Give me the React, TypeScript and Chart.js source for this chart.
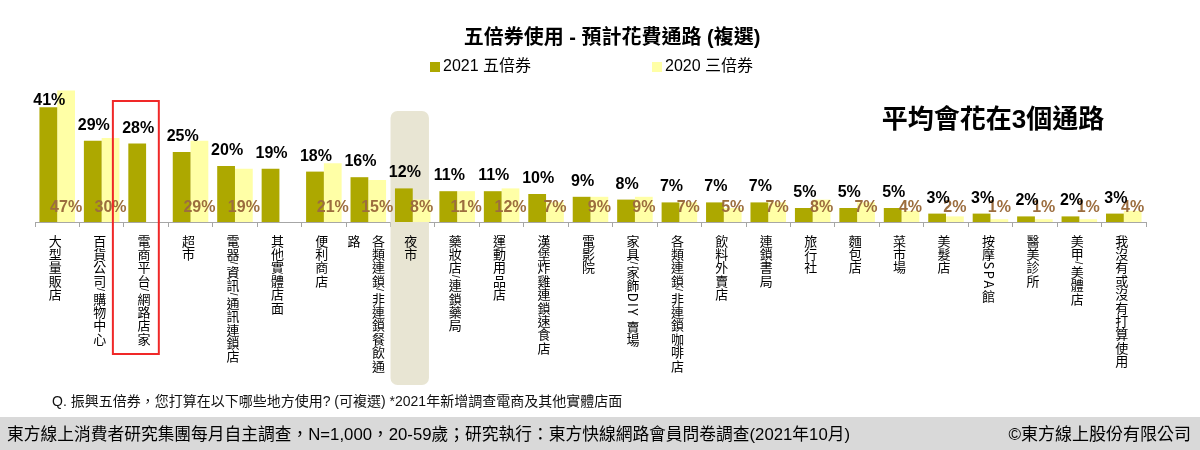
import { useEffect, useRef } from "react";
import { Chart, registerables } from "chart.js";

Chart.register(...registerables);

const categories = [
  "大型量販店",
  "百貨公司/購物中心",
  "電商平台/網路店家",
  "超市",
  "電器/資訊/通訊連鎖店",
  "其他實體店面",
  "便利商店",
  "各類連鎖/非連鎖餐飲通路",
  "夜市",
  "藥妝店/連鎖藥局",
  "運動用品店",
  "漢堡炸雞連鎖速食店",
  "電影院",
  "家具/家飾DIY 賣場",
  "各類連鎖/非連鎖咖啡店",
  "飲料外賣店",
  "連鎖書局",
  "旅行社",
  "麵包店",
  "菜市場",
  "美髮店",
  "按摩SPA館",
  "醫美診所",
  "美甲/美體店",
  "我沒有或沒有打算使用",
];
const values2021 = [41, 29, 28, 25, 20, 19, 18, 16, 12, 11, 11, 10, 9, 8, 7, 7, 7, 5, 5, 5, 3, 3, 2, 2, 3];
const values2020 = [47, 30, null, 29, 19, null, 21, 15, 8, 11, 12, 7, 9, 9, 7, 5, 7, 8, 7, 4, 2, 1, 1, 1, 4];
const seriesNames = ["2021 五倍券", "2020 三倍券"];
const chartTitle = "五倍券使用 - 預計花費通路 (複選)";
const calloutText = "平均會花在3個通路";
const questionNote = "Q. 振興五倍券，您打算在以下哪些地方使用? (可複選) *2021年新增調查電商及其他實體店面";
const sourceNote = "東方線上消費者研究集團每月自主調查，N=1,000，20-59歲；研究執行：東方快線網路會員問卷調查(2021年10月)";
const copyrightNote = "©東方線上股份有限公司";
const highlightIndex = 8;
const boxedIndex = 2;

const COLOR_2021 = "#ADA800";
const COLOR_2020 = "#FFFFA6";
const LABEL_2020 = "#9C6D3E";
const LATIN = '"Liberation Sans", Arial, "Noto Sans CJK TC", sans-serif';
const CJK = '"Noto Sans CJK TC", sans-serif';

function isUpright(ch: string) {
  return ch.charCodeAt(0) > 0x2e7f;
}

function drawVerticalLabel(ctx: CanvasRenderingContext2D, text: string, cx: number, top: number, maxH: number) {
  const step = 13.4;
  ctx.font = "13px " + CJK;
  const items = [...text].map((ch) => {
    const up = isUpright(ch);
    const slash = ch === "/";
    ctx.font = slash ? "10px " + LATIN : "13px " + CJK;
    return { ch, up, slash, adv: up ? step : ctx.measureText(ch).width + 1.5 };
  });
  const cols: typeof items[] = [[]];
  let h = 0;
  for (const it of items) {
    if (h + it.adv > maxH && cols[cols.length - 1].length) {
      cols.push([]);
      h = 0;
    }
    cols[cols.length - 1].push(it);
    h += it.adv;
  }
  const colGap = 24.5;
  const n = cols.length;
  cols.forEach((col, ci) => {
    const x = cx + ((n - 1) / 2 - ci) * colGap;
    let y = top;
    for (const it of col) {
      ctx.save();
      ctx.font = it.slash ? "10px " + LATIN : "13px " + CJK;
      ctx.textAlign = "center";
      ctx.textBaseline = "middle";
      if (it.up) {
        ctx.fillText(it.ch, x, y + it.adv / 2);
      } else {
        ctx.translate(x, y + it.adv / 2);
        ctx.rotate(Math.PI / 2);
        ctx.fillText(it.ch, 0, 0);
      }
      ctx.restore();
      y += it.adv;
    }
  });
}

const decorPlugin = {
  id: "decor",
  beforeDatasetsDraw(chart: any) {
    const { ctx, chartArea, scales } = chart;
    const xs = scales.x;
    const span = xs.getPixelForValue(1) - xs.getPixelForValue(0);
    const left = xs.getPixelForValue(highlightIndex) - span / 2;
    const right = left + span - 6;
    const top = chartArea.top + 29;
    const bottom = chartArea.bottom + 163;
    ctx.save();
    ctx.fillStyle = "#E8E5D3";
    ctx.beginPath();
    (ctx as any).roundRect(left, top, right - left, bottom - top, 7);
    ctx.fill();
    ctx.restore();
  },
  afterDatasetsDraw(chart: any) {
    const { ctx, chartArea } = chart;
    const m21 = chart.getDatasetMeta(0);
    const m20 = chart.getDatasetMeta(1);
    ctx.save();
    ctx.font = "bold 16px " + LATIN;
    ctx.textAlign = "center";
    ctx.textBaseline = "alphabetic";
    values2020.forEach((v, i) => {
      if (v === null) return;
      const bar = m20.data[i];
      ctx.fillStyle = LABEL_2020;
      ctx.fillText(v + "%", bar.x, chartArea.bottom - 10);
    });
    values2021.forEach((v, i) => {
      const bar = m21.data[i];
      ctx.fillStyle = "#000000";
      const y = Math.max(bar.y - 11, chartArea.top + 23);
      ctx.fillText(v + "%", bar.x + 1, y);
    });
    ctx.restore();
  },
  afterDraw(chart: any) {
    const { ctx, chartArea, scales, width } = chart;
    const xs = scales.x;
    const span = xs.getPixelForValue(1) - xs.getPixelForValue(0);
    ctx.save();
    // category labels
    ctx.fillStyle = "#000000";
    categories.forEach((c, i) => {
      drawVerticalLabel(ctx, c, xs.getPixelForValue(i) - 2, chartArea.bottom + 12, 146);
    });
    // title
    ctx.fillStyle = "#000000";
    ctx.font = "bold 20px " + LATIN;
    ctx.textAlign = "center";
    ctx.textBaseline = "middle";
    ctx.fillText(chartTitle, 612, 38);
    // legend
    const legendX = [430, 652];
    const colors = [COLOR_2021, COLOR_2020];
    ctx.font = "16px " + LATIN;
    ctx.textAlign = "left";
    seriesNames.forEach((name, i) => {
      ctx.fillStyle = colors[i];
      ctx.fillRect(legendX[i], 62, 10, 10);
      ctx.fillStyle = "#000000";
      ctx.fillText(name, legendX[i] + 13, 67);
    });
    // callout
    ctx.font = "bold 26px " + LATIN;
    ctx.textAlign = "center";
    ctx.fillText(calloutText, 993, 121);
    // red box
    const bLeft = xs.getPixelForValue(boxedIndex) - span / 2 - 11;
    const bRight = xs.getPixelForValue(boxedIndex) + span / 2 - 9.5;
    ctx.strokeStyle = "#F02828";
    ctx.lineWidth = 2;
    ctx.strokeRect(bLeft, chartArea.top + 19, bRight - bLeft, chartArea.bottom + 132 - (chartArea.top + 19));
    // question note
    ctx.fillStyle = "#111111";
    ctx.font = "14px " + LATIN;
    ctx.textAlign = "left";
    ctx.fillText(questionNote, 52, 402, 616);
    // footer band
    ctx.fillStyle = "#D9D9D9";
    ctx.fillRect(0, 417, width, 33);
    ctx.fillStyle = "#000000";
    ctx.font = "17px " + LATIN;
    ctx.textAlign = "left";
    ctx.fillText(sourceNote, 7, 435, 843);
    ctx.textAlign = "right";
    ctx.fillText(copyrightNote, 1191, 435);
    ctx.restore();
  },
};

export default function App() {
  const ref = useRef<HTMLCanvasElement | null>(null);
  useEffect(() => {
    if (!ref.current) return;
    const chart = new Chart(ref.current, {
      type: "bar",
      data: {
        labels: categories,
        datasets: [
          {
            label: seriesNames[0],
            data: values2021,
            backgroundColor: COLOR_2021,
            categoryPercentage: 0.8,
            barPercentage: 1.0,
          },
          {
            label: seriesNames[1],
            data: values2020 as any,
            backgroundColor: COLOR_2020,
            categoryPercentage: 0.8,
            barPercentage: 1.0,
          },
        ],
      },
      options: {
        responsive: false,
        animation: false,
        layout: { padding: { left: 35, right: 54, top: 82, bottom: 223 } },
        plugins: {
          legend: { display: false },
          title: { display: false },
          tooltip: { enabled: false },
        },
        scales: {
          x: {
            display: true,
            grid: {
              display: true,
              drawOnChartArea: false,
              drawTicks: true,
              tickLength: 5,
              color: "#A6A6A6",
              offset: true,
            },
            border: { display: true, color: "#A6A6A6" },
            ticks: { display: false },
          },
          y: { display: false, min: 0, max: 50 },
        },
      },
      plugins: [decorPlugin],
    });
    return () => chart.destroy();
  }, []);
  return (
    <div style={{ position: "fixed", left: 0, top: 0, width: 1200, height: 450, background: "#FFFFFF" }}>
      <canvas ref={ref} width={1200} height={450} />
    </div>
  );
}
